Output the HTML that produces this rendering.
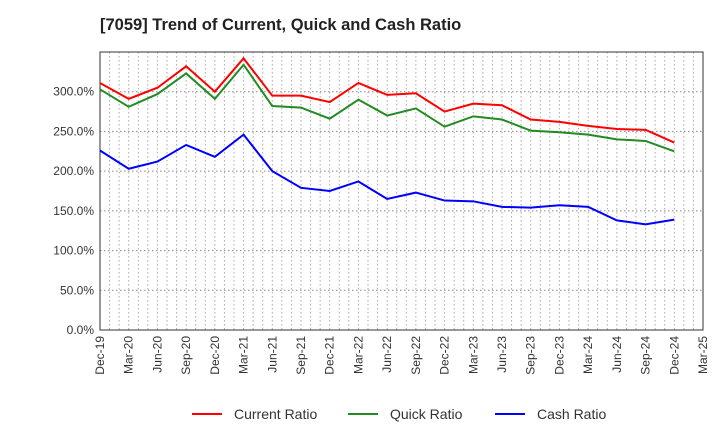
<!DOCTYPE html>
<html><head><meta charset="utf-8"><style>
body{margin:0;background:#fff;font-family:"Liberation Sans",sans-serif}
</style></head><body>
<svg id="c" width="720" height="440" xmlns="http://www.w3.org/2000/svg">
<text x="100" y="30" font-size="16.5" font-weight="bold" fill="#222">[7059]  Trend of Current, Quick and Cash Ratio</text>
</svg>
<script>
const categories=["Dec-19","Mar-20","Jun-20","Sep-20","Dec-20","Mar-21","Jun-21","Sep-21","Dec-21","Mar-22","Jun-22","Sep-22","Dec-22","Mar-23","Jun-23","Sep-23","Dec-23","Mar-24","Jun-24","Sep-24","Dec-24","Mar-25"];
const currentRatio=[311,291,305,332,300,342,295,295,287,311,296,298,275,285,283,265,262,257,253,252,236];
const quickRatio=[303,281,297,323,291,334,282,280,266,290,270,279,256,269,265,251,249,246,240,238,225];
const cashRatio=[226,203,212,233,218,246,200,179,175,187,165,173,163,162,155,154,157,155,138,133,139];
const yTicks=[0,50,100,150,200,250,300];
const yTickLabels=["0.0%","50.0%","100.0%","150.0%","200.0%","250.0%","300.0%"];
const NS="http://www.w3.org/2000/svg",svg=document.getElementById('c');
const L=100,R=703,T=52,B=330,YMAX=350;
const x=i=>L+(R-L)*i/(categories.length-1);
const y=v=>B-(B-T)*v/YMAX;
function mk(t,a,p){const e=document.createElementNS(NS,t);for(const k in a)e.setAttribute(k,a[k]);(p||svg).appendChild(e);return e;}
for(let m=1;m<63;m++){const xx=L+(R-L)*m/63;const g=mk('line',{x1:xx,x2:xx,y1:T,y2:B,stroke:'#aaa','stroke-dasharray':'1.5,2.5','stroke-width':1});

}
yTicks.forEach((v,i)=>{const g=mk('line',{x1:L,x2:R,y1:y(v),y2:y(v),stroke:'#888','stroke-dasharray':'1.5,2.5','stroke-width':1});


const t=mk('text',{x:L-6,y:y(v)+4,'text-anchor':'end','font-size':12,fill:'#333'});t.textContent=yTickLabels[i];

});
const ax=mk('rect',{x:L,y:T,width:R-L,height:B-T,fill:'none',stroke:'#333','stroke-width':1});


categories.forEach((c,i)=>{const t=mk('text',{transform:`translate(${x(i)+4},${B+6}) rotate(-90)`,'text-anchor':'end','font-size':12,fill:'#333'});t.textContent=c;

});
[[currentRatio,'#f00','current-ratio-line'],[quickRatio,'#228b22','quick-ratio-line'],[cashRatio,'#00f','cash-ratio-line']].forEach(([d,c,n])=>{
const p=mk('polyline',{points:d.map((v,i)=>x(i)+','+y(v)).join(' '),fill:'none',stroke:c,'stroke-width':2});

});
[['Current Ratio','#f00',192],['Quick Ratio','#228b22',348],['Cash Ratio','#00f',495]].forEach(([l,c,lx])=>{
const g=mk('g',{});


mk('line',{x1:lx,x2:lx+30,y1:414,y2:414,stroke:c,'stroke-width':2},g);
const t=mk('text',{x:lx+42,y:419,'font-size':14,fill:'#333'},g);t.textContent=l;});
</script>
</body></html>
